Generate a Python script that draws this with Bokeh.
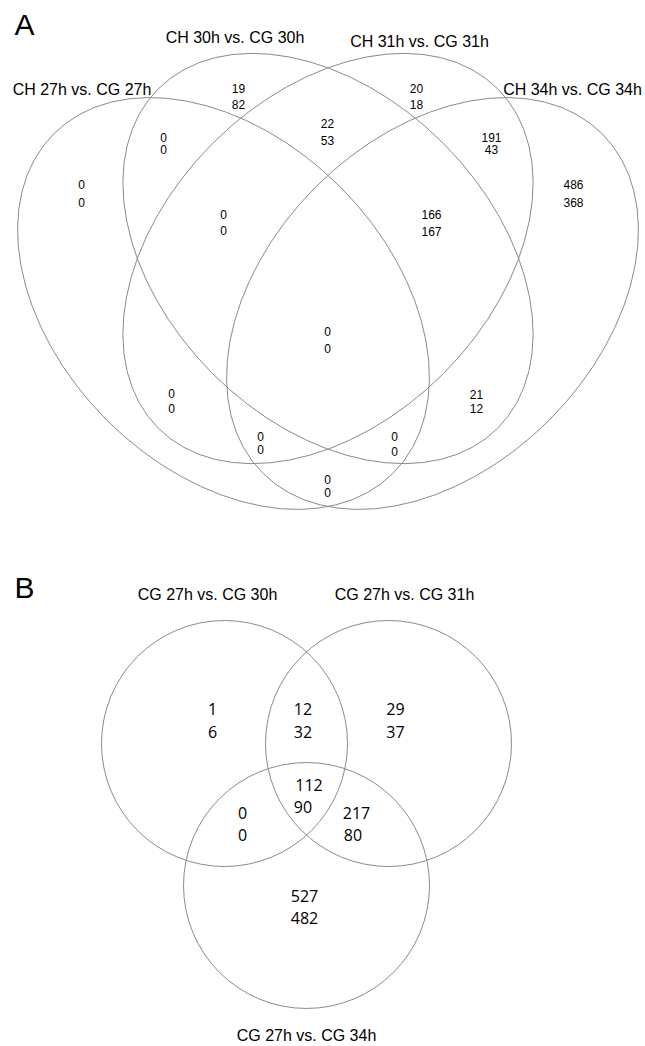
import math
from bokeh.plotting import figure
from bokeh.models import Range1d
from bokeh.core.properties import value
from bokeh.embed import file_html
from bokeh.resources import INLINE

# ---------------- data ----------------
# Panel A: four-set Venn (up-regulated / down-regulated counts)
a_sets = ["CH 27h vs. CG 27h", "CH 30h vs. CG 30h", "CH 31h vs. CG 31h", "CH 34h vs. CG 34h"]
a_regions = ["1", "2", "3", "4", "12", "23", "34", "123", "234", "1234", "13", "24", "134", "124", "14"]
a_up = [0, 19, 20, 486, 0, 22, 191, 0, 166, 0, 0, 21, 0, 0, 0]
a_down = [0, 82, 18, 368, 0, 53, 43, 0, 167, 0, 0, 12, 0, 0, 0]

# Panel B: three-set Venn
b_sets = ["CG 27h vs. CG 30h", "CG 27h vs. CG 31h", "CG 27h vs. CG 34h"]
b_regions = ["1", "12", "2", "123", "13", "23", "3"]
b_up = [1, 12, 29, 112, 0, 217, 527]
b_down = [6, 32, 37, 90, 0, 80, 482]

# ---------------- layout (page pixel coordinates) ----------------
a_ell_cx = [223.0, 327.5, 327.5, 432.0]
a_ell_cy = [303.0, 258.0, 258.0, 303.0]
a_ell_w = [480.0, 480.0, 480.0, 480.0]
a_ell_h = [330.0, 326.0, 326.0, 330.0]
a_ell_ang = [-45.0, -45.0, 45.0, 45.0]

a_set_lx = [81.5, 234.5, 419.0, 572.0]
a_set_ly = [89.0, 37.0, 41.0, 89.0]

a_pos = {
    "1": (81, 184, 81, 202),
    "2": (238, 88, 238, 104),
    "3": (416, 88, 416, 104),
    "4": (573, 184, 573, 202),
    "12": (163, 137, 163, 149),
    "23": (327, 123, 327, 140),
    "34": (491, 137, 491, 149),
    "123": (223, 214, 223, 230),
    "234": (431, 214, 431, 231),
    "1234": (327, 331, 327, 348),
    "13": (171, 393, 171, 408),
    "24": (476, 394, 476, 408),
    "134": (260, 436, 260, 449),
    "124": (394, 436, 394, 451),
    "14": (327, 479, 327, 492),
}

b_circ_cx = [224.0, 388.0, 306.0]
b_circ_cy = [743.0, 743.0, 885.0]
b_circ_r = 123.0
b_set_lx = [207.0, 404.0, 306.0]
b_set_ly = [594.0, 594.0, 1035.0]

b_pos = {
    "1": (212, 708, 212, 731),
    "12": (302.5, 708, 302.5, 731),
    "2": (395, 708, 395, 731),
    "123": (308.5, 784, 302.5, 806),
    "13": (242, 812, 242, 834),
    "23": (356, 812, 352.5, 834),
    "3": (304, 895, 304, 917),
}

LINE = "#8a8a8a"
W, H = 645, 1046

p = figure(width=W, height=H, output_backend="svg", toolbar_location=None,
           x_range=Range1d(0, W), y_range=Range1d(H, 0),
           x_axis_location=None, y_axis_location=None,
           min_border=0, min_border_left=0, min_border_right=0,
           min_border_top=0, min_border_bottom=0)
p.outline_line_color = None
p.background_fill_color = "white"
p.border_fill_color = "white"
p.grid.visible = False

# ellipses panel A
p.ellipse(x=a_ell_cx, y=a_ell_cy, width=a_ell_w, height=a_ell_h,
          angle=[math.radians(a) for a in a_ell_ang],
          fill_color=None, line_color=LINE, line_width=1)

# circles panel B
p.ellipse(x=b_circ_cx, y=b_circ_cy, width=[2 * b_circ_r] * 3, height=[2 * b_circ_r] * 3,
          fill_color=None, line_color=LINE, line_width=1)

# set labels
p.text(x=a_set_lx, y=a_set_ly, text=a_sets, text_font=value("Liberation Sans"),
       text_font_size="16px", text_align="center", text_baseline="middle", text_color="black")
p.text(x=b_set_lx, y=b_set_ly, text=b_sets, text_font=value("Liberation Sans"),
       text_font_size="16px", text_align="center", text_baseline="middle", text_color="black")

# counts panel A
ax, ay, at = [], [], []
for r, u, d in zip(a_regions, a_up, a_down):
    x1, y1, x2, y2 = a_pos[r]
    ax += [x1, x2]; ay += [y1, y2]; at += [str(u), str(d)]
p.text(x=ax, y=ay, text=at, text_font=value("Liberation Sans"), text_font_size="12px",
       text_align="center", text_baseline="middle", text_color="black")

# counts panel B
bx, by, bt = [], [], []
for r, u, d in zip(b_regions, b_up, b_down):
    x1, y1, x2, y2 = b_pos[r]
    bx += [x1, x2]; by += [y1, y2]; bt += [str(u), str(d)]
p.text(x=bx, y=by, text=bt, text_font=value("Open Sans"), text_font_size="16px",
       text_align="center", text_baseline="middle", text_color="black")

# panel letters
p.text(x=[24, 24], y=[24, 587], text=["A", "B"], text_font=value("Liberation Sans"),
       text_font_size={"value": "30px"}, text_align="center", text_baseline="middle",
       text_color="black")

open("out.html", "w").write(file_html(p, INLINE))
